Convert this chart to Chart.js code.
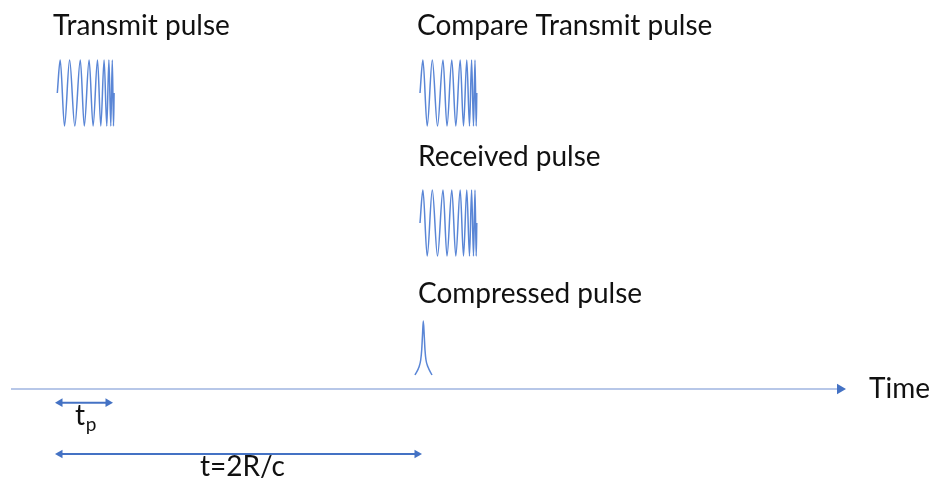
<!DOCTYPE html>
<html>
<head>
<meta charset="utf-8">
<script src="https://cdn.jsdelivr.net/npm/chart.js@4"></script>
<style>
  body { margin: 0; background: #fff; }
  canvas { display: block; }
</style>
</head>
<body>
<canvas id="chart" width="939" height="486"></canvas>
<script>
// chirp shape: times of start, alternating peaks/troughs, end (relative to pulse start)
const chirpT = [0, 2.9, 7.2, 12.3, 17.5, 23, 27, 31.8, 35.8, 40.2, 43.5, 46.8, 49.5, 51.6, 53.5, 55, 56.2, 56.8];
const chirpA = [0, 1, -1, 1, -1, 1, -1, 1, -1, 1, -1, 1, -1, 1, -1, 1, -1, 0];

// where each pulse starts in time, and the row it sits on
const pulseStart = { transmit: 0.3, compare: 363, received: 363 };
const pulseRow = { transmit: 93, compare: 93, received: 223 };
const pulseAmp = 33;

// compressed pulse (time, row height)
const compT = [358, 362, 363.7, 364.7, 365.5, 366.3, 367.2, 368, 369, 371, 375];
const compY = [375, 367, 360, 350, 335, 321, 335, 350, 360, 367, 375];

// time axis and the two spans
const axisT = [-46, 783];
const axisRow = 389;
const tpSpan = [3, 51];
const tpRow = 402.7;
const rangeSpan = [3, 360];
const rangeRow = 454;

const labels = [
  { text: "Transmit pulse", t: -4, row: 35 },
  { text: "Compare Transmit pulse", t: 360, row: 35 },
  { text: "Received pulse", t: 361, row: 166 },
  { text: "Compressed pulse", t: 361, row: 303 },
  { text: "Time", t: 812, row: 398 },
  { text: "t=2R/c", t: 143, row: 476 }
];

function chirp(name) {
  return chirpT.map((t, i) => ({ x: pulseStart[name] + t, y: pulseRow[name] - chirpA[i] * pulseAmp }));
}

const pulseStyle = {
  showLine: true, borderColor: "#5a86d6", borderWidth: 1.5,
  pointRadius: 0, cubicInterpolationMode: "monotone", fill: false
};

function arrow(span, row, both, r, color, width) {
  return {
    data: [{ x: span[0], y: row }, { x: span[1], y: row }],
    showLine: true, borderColor: color, borderWidth: width,
    pointStyle: "triangle", rotation: [-90, 90],
    pointRadius: both ? [r, r] : [0, r],
    pointBackgroundColor: "#4472c4", pointBorderColor: "#4472c4", pointBorderWidth: 0
  };
}

const textPlugin = {
  id: "texts",
  afterDatasetsDraw(chart) {
    const { ctx, scales } = chart;
    ctx.save();
    ctx.fillStyle = "#111";
    ctx.textBaseline = "alphabetic";
    ctx.font = "28px Lato";
    labels.forEach(l => {
      ctx.fillText(l.text, scales.x.getPixelForValue(l.t), scales.y.getPixelForValue(l.row));
    });
    // t with subscript p
    const x0 = scales.x.getPixelForValue(18);
    const y0 = scales.y.getPixelForValue(425);
    ctx.fillText("t", x0, y0);
    ctx.font = "19px Lato";
    ctx.fillText("p", x0 + ctx.measureText("t").width + 4, y0 + 6);
    ctx.restore();
  }
};

new Chart(document.getElementById("chart"), {
  type: "scatter",
  data: {
    datasets: [
      { ...pulseStyle, data: chirp("transmit") },
      { ...pulseStyle, data: chirp("compare") },
      { ...pulseStyle, data: chirp("received") },
      { ...pulseStyle, data: compT.map((t, i) => ({ x: t, y: compY[i] })) },
      arrow(axisT, axisRow, false, 6, "#9fb5e0", 1.5),
      arrow(tpSpan, tpRow, true, 5, "#4472c4", 2),
      arrow(rangeSpan, rangeRow, true, 5, "#4472c4", 2)
    ]
  },
  options: {
    responsive: false,
    animation: false,
    layout: { padding: 0, autoPadding: false },
    plugins: { legend: { display: false }, tooltip: { enabled: false } },
    scales: {
      x: { type: "linear", display: false, min: -57, max: 882 },
      y: { type: "linear", display: false, min: 0, max: 486, reverse: true }
    }
  },
  plugins: [textPlugin]
});
</script>
</body>
</html>
